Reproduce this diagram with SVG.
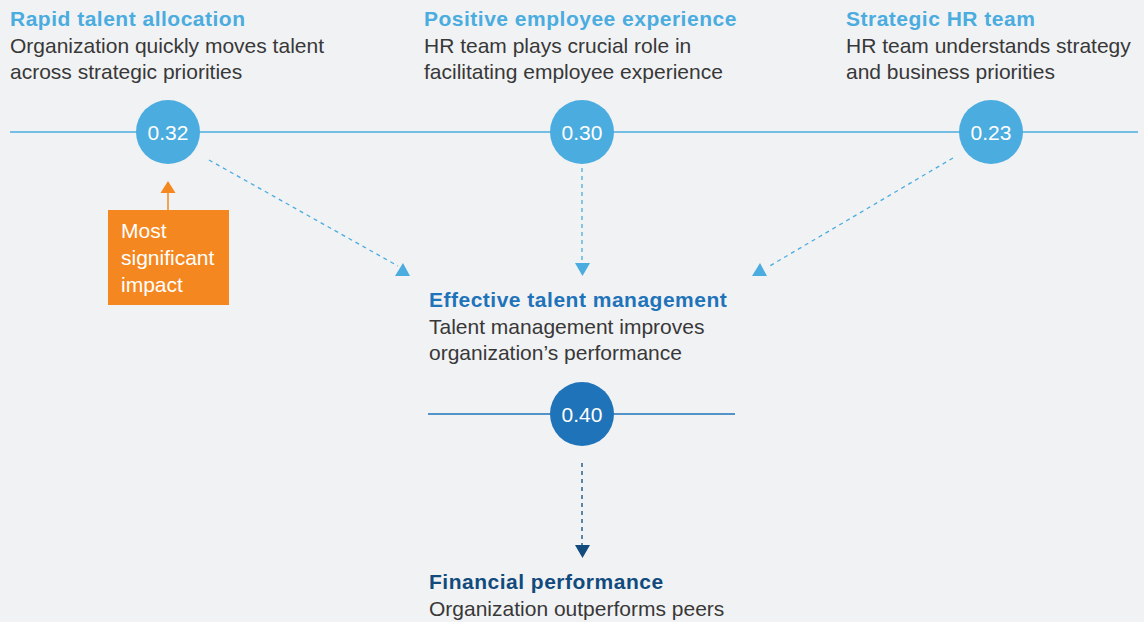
<svg xmlns="http://www.w3.org/2000/svg" width="1144" height="622" viewBox="0 0 1144 622">
  <style>
    text { font-family: "Liberation Sans", Arial, sans-serif; }
    .head { font-size: 21px; font-weight: bold; letter-spacing: 0.5px; }
    .body { font-size: 21px; fill: #383838; }
    .light { fill: #4aacdf; }
    .mid { fill: #1f73b9; }
    .navy { fill: #114b7d; }
    .val { font-size: 21px; fill: #ffffff; text-anchor: middle; }
    .note { font-size: 21px; fill: #ffffff; }
    .axis-light { stroke: #4aacdf; stroke-width: 1.5; }
    .axis-mid { stroke: #1f73b9; stroke-width: 1.5; }
    .dash-light { stroke: #4aacdf; stroke-width: 1.3; stroke-dasharray: 4 4; fill: none; }
    .dash-navy { stroke: #114b7d; stroke-width: 1.3; stroke-dasharray: 4 4; fill: none; }
  </style>
  <rect width="1144" height="622" fill="#f1f2f4"/>

  <!-- baselines behind the score circles -->
  <g id="axes">
    <line class="axis-light" x1="10" y1="132" x2="1138" y2="132"/>
    <line class="axis-mid" x1="428" y1="414" x2="735" y2="414"/>
  </g>

  <!-- connectors -->
  <g id="connectors">
    <line class="dash-light" x1="209" y1="160" x2="398" y2="266"/>
    <polygon fill="#4aacdf" points="403,263 410,276 395,276"/>
    <line class="dash-light" x1="582" y1="160" x2="582" y2="262"/>
    <polygon fill="#4aacdf" points="575,263 590,263 582.5,276"/>
    <line class="dash-light" x1="953" y1="158" x2="768" y2="267"/>
    <polygon fill="#4aacdf" points="760,263 767,276 752,276"/>
    <line class="dash-navy" x1="582" y1="463" x2="582" y2="545"/>
    <polygon fill="#114b7d" points="575,545 590,545 582.5,558"/>
    <line stroke="#f58720" stroke-width="1.5" x1="168" y1="210" x2="168" y2="190"/>
    <polygon fill="#f58720" points="168,181 175.5,193 160.5,193"/>
  </g>

  <g id="rapid-talent-allocation">
    <text class="head light" x="10" y="26">Rapid talent allocation</text>
    <text class="body" x="10" y="53">Organization quickly moves talent</text>
    <text class="body" x="10" y="79">across strategic priorities</text>
    <circle cx="168" cy="132" r="32" fill="#4aacdf"/>
    <text class="val" x="168" y="140">0.32</text>
  </g>

  <g id="positive-employee-experience">
    <text class="head light" x="424" y="26">Positive employee experience</text>
    <text class="body" x="424" y="53">HR team plays crucial role in</text>
    <text class="body" x="424" y="79">facilitating employee experience</text>
    <circle cx="582" cy="132" r="32" fill="#4aacdf"/>
    <text class="val" x="582" y="140">0.30</text>
  </g>

  <g id="strategic-hr-team">
    <text class="head light" x="846" y="26">Strategic HR team</text>
    <text class="body" x="846" y="53">HR team understands strategy</text>
    <text class="body" x="846" y="79">and business priorities</text>
    <circle cx="991" cy="132" r="32" fill="#4aacdf"/>
    <text class="val" x="991" y="140">0.23</text>
  </g>

  <g id="most-significant-impact">
    <rect x="108" y="210" width="121" height="95" fill="#f58720"/>
    <text class="note" x="121" y="238">Most</text>
    <text class="note" x="121" y="265">significant</text>
    <text class="note" x="121" y="292">impact</text>
  </g>

  <g id="effective-talent-management">
    <text class="head mid" x="429" y="307">Effective talent management</text>
    <text class="body" x="429" y="334">Talent management improves</text>
    <text class="body" x="429" y="360">organization’s performance</text>
    <circle cx="582" cy="414" r="32" fill="#1f73b9"/>
    <text class="val" x="582" y="422">0.40</text>
  </g>

  <g id="financial-performance">
    <text class="head navy" x="429" y="589">Financial performance</text>
    <text class="body" x="429" y="616">Organization outperforms peers</text>
  </g>
</svg>
